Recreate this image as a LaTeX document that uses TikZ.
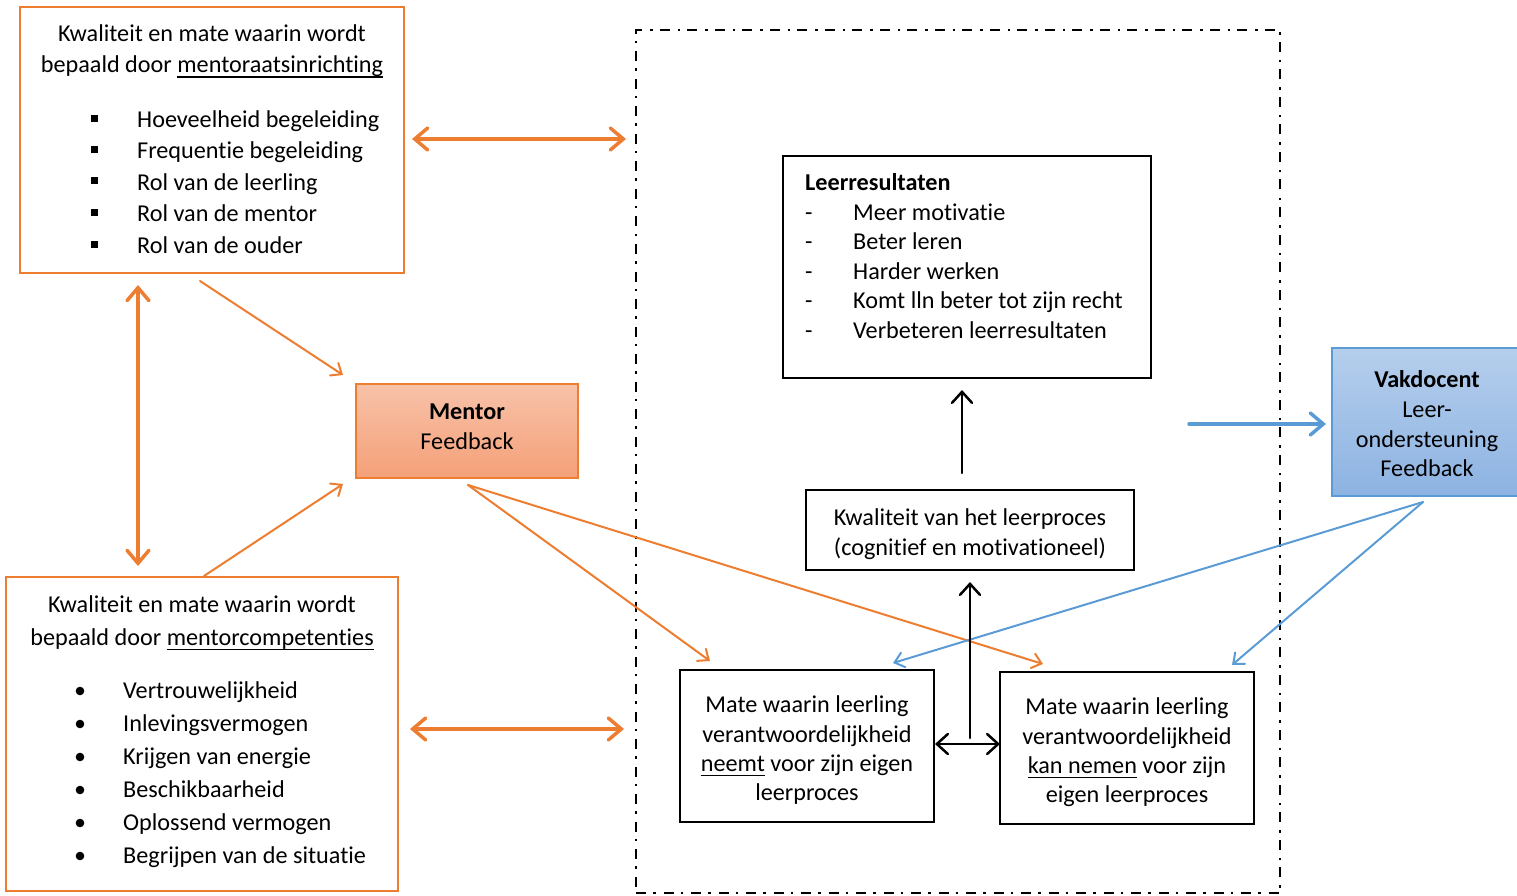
\documentclass[tikz,border=0pt]{standalone}
\usepackage{fontspec}
\setmainfont{Carlito}[Ligatures={NoCommon}]
\usetikzlibrary{arrows.meta}
\definecolor{orng}{HTML}{ED7D31}
\definecolor{blu}{HTML}{5B9BD5}
\definecolor{mtop}{HTML}{F8C2A9}
\definecolor{mbot}{HTML}{F4A078}
\definecolor{vtop}{HTML}{B5CEEC}
\definecolor{vbot}{HTML}{8DB3E2}
\newcommand\myul[1]{\setbox0\hbox{#1}\rlap{\rule[-5pt]{\wd0}{1.5pt}}\box0\relax}
\begin{document}
\begin{tikzpicture}[x=1pt,y=-1pt,
  font=\fontsize{24.2}{30}\selectfont,
  obox/.style={draw=orng, line width=2pt, inner sep=0, fill=white},
  kbox/.style={draw=black, line width=2.3pt, inner sep=0},
  ctxt/.style={inner sep=0, anchor=base},
  ltxt/.style={inner sep=0, anchor=base west},
  bigo/.style={draw=orng, line width=3.5pt, line cap=round, {Straight Barb[length=13pt,width=22pt,line cap=round]}-{Straight Barb[length=13pt,width=22pt,line cap=round]}},
  thino/.style={draw=orng, line width=2pt, line cap=round, -{Straight Barb[length=9pt,width=15pt,line cap=round]}},
  thinb/.style={draw=blu, line width=2pt, line cap=round, -{Straight Barb[length=9pt,width=15pt,line cap=round]}},
  bigb/.style={draw=blu, line width=3.5pt, line cap=round, -{Straight Barb[length=13pt,width=22pt,line cap=round]}},
  karr/.style={draw=black, line width=2.5pt, line cap=round, -{Straight Barb[length=11pt,width=20pt,line cap=round]}},
  kdarr/.style={draw=black, line width=2.5pt, line cap=round, {Straight Barb[length=11pt,width=20pt,line cap=round]}-{Straight Barb[length=11pt,width=20pt,line cap=round]}},
]
\useasboundingbox (0,0) rectangle (1517,896);

% dash-dotted frame
\node[draw=black, line width=2.3pt, dash pattern=on 10pt off 7pt on 2.5pt off 8pt, minimum width=644pt, minimum height=863pt, inner sep=0] (D) at (958,461.5) {};

% Box A
\node[obox, minimum width=384pt, minimum height=266pt] (A) at (212,140) {};
\node[ctxt] (a1) at (212,42) {Kwaliteit en mate waarin wordt};
\node[ctxt] (a2) at (212,73) {bepaald door \myul{mentoraatsinrichting}};
\foreach \y/\t [count=\i] in {128/Hoeveelheid begeleiding,159/Frequentie begeleiding,190/Rol van de leerling,221/Rol van de mentor,253/Rol van de ouder}{
  \fill (90.5,\y-5.5) rectangle ++(7,-7);
  \node[ltxt] (al\i) at (137,\y) {\t};
}

% Box B
\node[obox, minimum width=392pt, minimum height=314pt] (B) at (202,734) {};
\node[ctxt] (b1) at (202,612) {Kwaliteit en mate waarin wordt};
\node[ctxt] (b2) at (202,645) {bepaald door \myul{mentorcompetenties}};
\foreach \y/\t [count=\i] in {698/Vertrouwelijkheid,731/Inlevingsvermogen,764/Krijgen van energie,797/Beschikbaarheid,830/Oplossend vermogen,863/Begrijpen van de situatie}{
  \fill (80,\y-7) circle (4.3pt);
  \node[ltxt] (bl\i) at (123,\y) {\t};
}

% Mentor
\node[draw=orng, line width=1.2pt, top color=mtop, bottom color=mbot, minimum width=222pt, minimum height=94pt, inner sep=0] (M) at (467,431) {};
\node[ctxt] (m1) at (467,419) {\bfseries Mentor};
\node[ctxt] (m2) at (467,449) {Feedback};

% Vakdocent
\node[draw=blu, line width=1.2pt, top color=vtop, bottom color=vbot, minimum width=190pt, minimum height=148pt, inner sep=0] (V) at (1427,422) {};
\node[ctxt] (v1) at (1427,387) {\bfseries Vakdocent};
\node[ctxt] (v2) at (1427,417) {Leer-};
\node[ctxt] (v3) at (1427,447) {ondersteuning};
\node[ctxt] (v4) at (1427,476) {Feedback};

% Leerresultaten
\node[kbox, minimum width=368pt, minimum height=222pt] (L) at (967,267) {};
\node[ltxt] (l0) at (805,191) {\bfseries Leerresultaten};
\foreach \y/\t [count=\i] in {220/Meer motivatie,249/Beter leren,279/Harder werken,308/Komt lln beter tot zijn recht,338/Verbeteren leerresultaten}{
  \node[ltxt] (ld\i) at (805,\y) {-};
  \node[ltxt] (lt\i) at (853,\y) {\t};
}

% Kwaliteit leerproces
\node[kbox, minimum width=328pt, minimum height=80pt] (K) at (970,530) {};
\node[ctxt] (k1) at (970,525) {Kwaliteit van het leerproces};
\node[ctxt] (k2) at (970,555) {(cognitief en motivationeel)};

% Mate neemt
\node[kbox, minimum width=254pt, minimum height=152pt] (N) at (807,746) {};
\node[ctxt] (n1) at (807,712) {Mate waarin leerling};
\node[ctxt] (n2) at (807,742) {verantwoordelijkheid};
\node[ctxt] (n3) at (807,771) {\myul{neemt} voor zijn eigen};
\node[ctxt] (n4) at (807,800) {leerproces};

% Mate kan nemen
\node[kbox, minimum width=254pt, minimum height=152pt] (C) at (1127,748) {};
\node[ctxt] (c1) at (1127,714) {Mate waarin leerling};
\node[ctxt] (c2) at (1127,744) {verantwoordelijkheid};
\node[ctxt] (c3) at (1127,773) {\myul{kan nemen} voor zijn};
\node[ctxt] (c4) at (1127,802) {eigen leerproces};

% connector endpoints
\coordinate (p1) at (412,139); \coordinate (p2) at (626,139);
\coordinate (p3) at (410,729); \coordinate (p4) at (624,729);
\coordinate (p5) at (138,285); \coordinate (p6) at (138,566);
\coordinate (p7) at (200,281); \coordinate (p8) at (343,375);
\coordinate (p9) at (204,576); \coordinate (p10) at (343,484);
\coordinate (m0) at (468,485); \coordinate (q1) at (710,661); \coordinate (q2) at (1043,664);
\coordinate (r0) at (1189,424); \coordinate (r1) at (1326,424);
\coordinate (s0) at (1423,502); \coordinate (s1) at (893,663); \coordinate (s2) at (1232,665);
\coordinate (u0) at (962,473); \coordinate (u1) at (962,390);
\coordinate (w0) at (970,738); \coordinate (w1) at (970,582);
\coordinate (h0) at (935,744); \coordinate (h1) at (1000,744);

\draw[bigo] (p1) -- (p2);
\draw[bigo] (p3) -- (p4);
\draw[bigo] (p5) -- (p6);
\draw[thino] (p7) -- (p8);
\draw[thino] (p9) -- (p10);
\draw[thino] (m0) -- (q1);
\draw[thino] (m0) -- (q2);
\draw[bigb] (r0) -- (r1);
\draw[thinb] (s0) -- (s1);
\draw[thinb] (s0) -- (s2);
\draw[karr] (u0) -- (u1);
\draw[karr] (w0) -- (w1);
\draw[kdarr] (h0) -- (h1);
\end{tikzpicture}
\end{document}
